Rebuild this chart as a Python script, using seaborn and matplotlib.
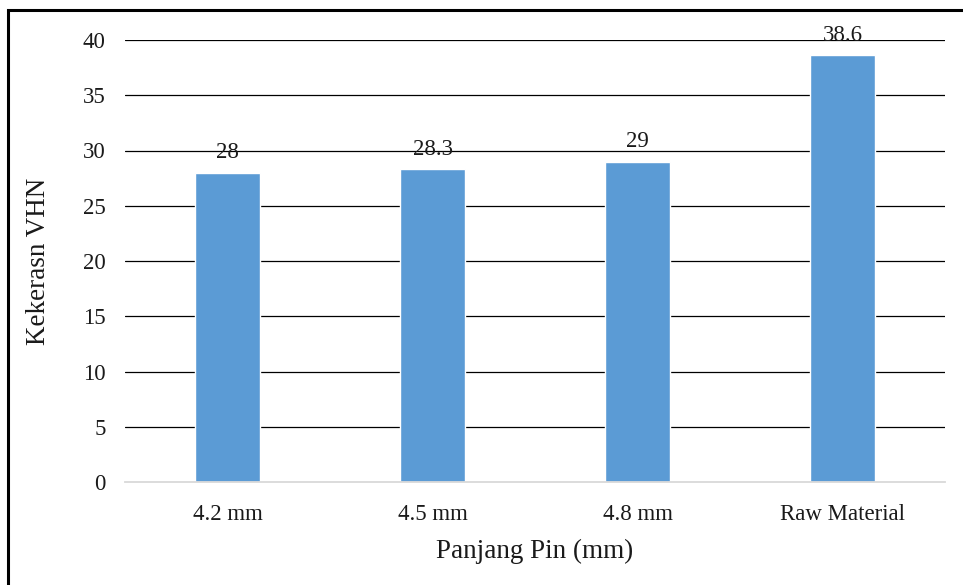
import matplotlib
matplotlib.use("Agg")
import matplotlib.pyplot as plt
import seaborn as sns
import pandas as pd
from matplotlib.patches import Rectangle

categories = ["4.2 mm", "4.5 mm", "4.8 mm", "Raw Material"]
hardness = [28, 28.3, 29, 38.6]
value_labels = ["28", "28.3", "29", "38.6"]
y_ticks = [0, 5, 10, 15, 20, 25, 30, 35, 40]

df = pd.DataFrame({"Panjang Pin (mm)": categories, "Kekerasn VHN": hardness})

sns.set_theme(style="white")
plt.rcParams["font.family"] = ["Liberation Serif", "DejaVu Serif"]

fig = plt.figure(figsize=(9.63, 5.85), dpi=100)
ax = fig.add_axes([125 / 963, 1 - 482 / 585, 820 / 963, 442 / 585])

sns.barplot(data=df, x="Panjang Pin (mm)", y="Kekerasn VHN", color="#5B9BD5",
            saturation=1, width=0.315, ax=ax, zorder=3)

ax.set_ylim(0, 40)
ax.set_xlim(-0.5, len(categories) - 0.5)
ax.set_yticks(y_ticks)
ax.set_yticklabels([str(t) for t in y_ticks])
for t in y_ticks[1:]:
    ax.axhline(t, color="black", lw=0.9, zorder=1)

for s in ["top", "right", "left"]:
    ax.spines[s].set_visible(False)
ax.spines["bottom"].set_color("#D9D9D9")
ax.spines["bottom"].set_linewidth(1.3)
ax.spines["bottom"].set_zorder(4)

ax.tick_params(axis="both", length=0, labelsize=16.5, colors="#1a1a1a")
ax.tick_params(axis="y", pad=14)
ax.tick_params(axis="x", pad=15.5)

for i, (v, lab) in enumerate(zip(hardness, value_labels)):
    ax.annotate(lab, (i, v), xytext=(0, 7), textcoords="offset points",
                ha="center", va="bottom", fontsize=16.5, color="#1a1a1a", zorder=5)

ax.set_xlabel("Panjang Pin (mm)", fontsize=19.5, color="#1a1a1a", labelpad=10.5)
ax.set_ylabel("Kekerasn VHN", fontsize=19.5, color="#1a1a1a", labelpad=23)

fig.patches.append(Rectangle((8 / 963, -0.05), 1.2, 1.05 - 10 / 585,
                             transform=fig.transFigure, fill=False,
                             edgecolor="black", lw=2.2))

fig.savefig("out.png", dpi=100)
